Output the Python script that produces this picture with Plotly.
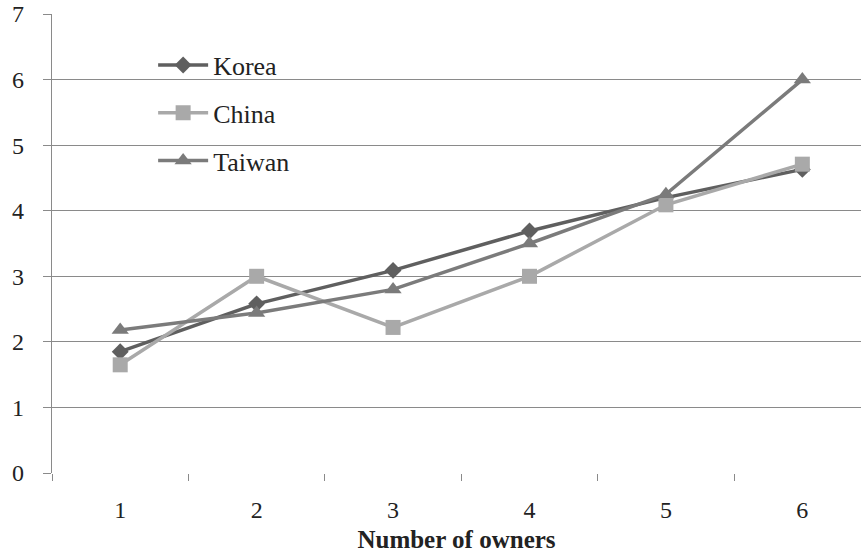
import plotly.graph_objects as go

owners = [1, 2, 3, 4, 5, 6]
korea = [1.85, 2.58, 3.09, 3.69, 4.20, 4.63]
china = [1.65, 3.00, 2.22, 3.00, 4.09, 4.71]
taiwan = [2.18, 2.44, 2.80, 3.50, 4.25, 6.00]

series = [
    ("Korea", korea, "#5f5f5f", "diamond", 13),
    ("China", china, "#a9a9a9", "square", 15),
    ("Taiwan", taiwan, "#7b7b7b", "triangle-up", 15),
]

fig = go.Figure()
for name, vals, color, symbol, size in series:
    fig.add_trace(go.Scatter(
        x=owners, y=vals, name=name, legendgroup=name, mode="lines+markers",
        line=dict(color=color, width=3.5),
        marker=dict(symbol=symbol, size=size, color=color),
    ))

serif = "Liberation Serif, Times New Roman, serif"
fig.update_layout(
    width=861, height=556,
    margin=dict(l=52, r=0, t=14, b=83),
    plot_bgcolor="white", paper_bgcolor="white",
    font=dict(family=serif, size=24, color="#222222"),
    showlegend=True,
    legend=dict(
        x=0.125, y=0.94, xanchor="left", yanchor="top",
        bgcolor="rgba(0,0,0,0)", font=dict(size=26, family=serif),
        tracegroupgap=11, itemwidth=50,
    ),
    xaxis=dict(
        range=[0.5, 6.43], tickvals=owners, ticktext=[str(o) for o in owners],
        showgrid=False, zeroline=False, showline=False, ticks="",
        tickfont=dict(size=24),
        minor=dict(tickvals=[0.5, 1.5, 2.5, 3.5, 4.5, 5.5],
                   ticks="outside", ticklen=7, tickcolor="#8a8a8a", showgrid=False),
        title=dict(text="<b>Number of owners</b>", font=dict(size=25, family=serif),
                   standoff=8),
        ticklabelstandoff=20,
    ),
    yaxis=dict(
        range=[0, 7], dtick=1, showgrid=True, gridcolor="#8a8a8a", gridwidth=1.2,
        zeroline=False, showline=True, linecolor="#8a8a8a", linewidth=1.2,
        ticks="outside", ticklen=8, tickcolor="#8a8a8a",
        tickfont=dict(size=24), ticklabelstandoff=14,
    ),
)

fig.write_html("out.html")
